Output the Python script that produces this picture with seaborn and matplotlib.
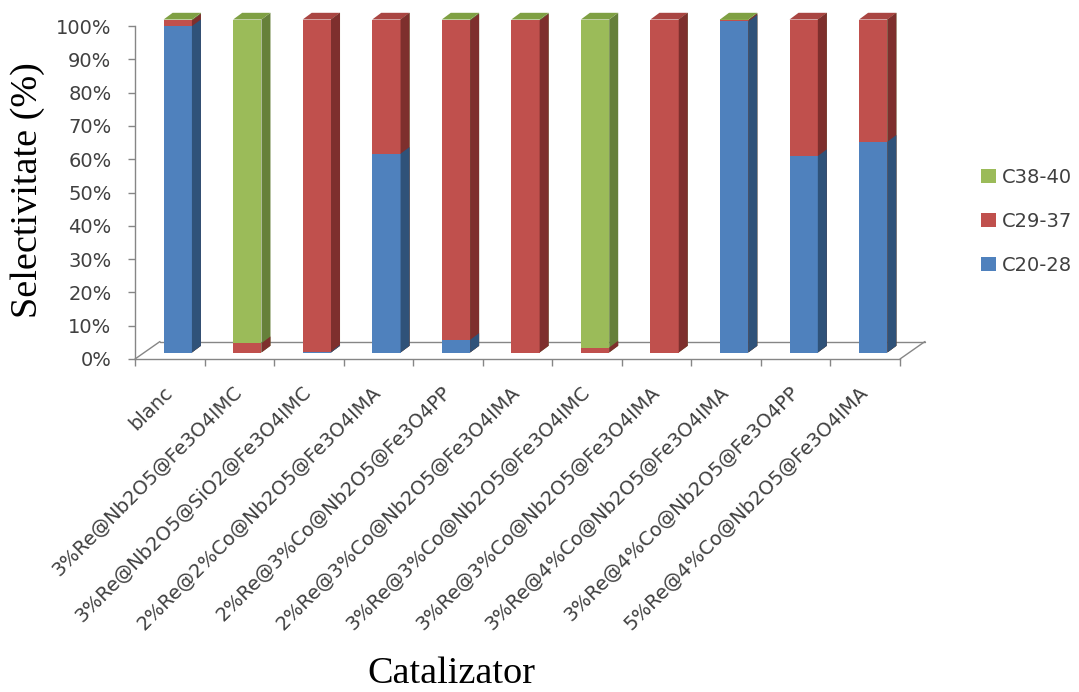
import matplotlib
matplotlib.use("Agg")
import matplotlib.pyplot as plt
from matplotlib.patches import Polygon, Patch
from matplotlib.lines import Line2D
import numpy as np
import pandas as pd
import seaborn as sns

# ---- data (selectivity, %) ----
categories = [
    "blanc",
    "3%Re@Nb2O5@Fe3O4IMC",
    "3%Re@Nb2O5@SiO2@Fe3O4IMC",
    "2%Re@2%Co@Nb2O5@Fe3O4IMA",
    "2%Re@3%Co@Nb2O5@Fe3O4PP",
    "2%Re@3%Co@Nb2O5@Fe3O4IMA",
    "3%Re@3%Co@Nb2O5@Fe3O4IMC",
    "3%Re@3%Co@Nb2O5@Fe3O4IMA",
    "3%Re@4%Co@Nb2O5@Fe3O4IMA",
    "3%Re@4%Co@Nb2O5@Fe3O4PP",
    "5%Re@4%Co@Nb2O5@Fe3O4IMA",
]
c20_28 = [98.0, 0.0, 0.3, 59.7, 3.8, 0.0, 0.0, 0.0, 99.4, 59.0, 63.3]
c29_37 = [1.7, 2.8, 99.7, 40.3, 95.9, 99.7, 1.5, 100.0, 0.4, 41.0, 36.7]
c38_40 = [0.3, 97.2, 0.0, 0.0, 0.3, 0.3, 98.5, 0.0, 0.2, 0.0, 0.0]
series_names = ["C20-28", "C29-37", "C38-40"]
y_ticks = list(range(0, 101, 10))
y_tick_labels = [f"{v}%" for v in y_ticks]

# ---- style ----
front_colors = {"C20-28": "#4F81BD", "C29-37": "#C0504D", "C38-40": "#9BBB59"}
side_colors = {"C20-28": "#2F5279", "C29-37": "#7E2F2D", "C38-40": "#66803A"}
top_colors = {"C20-28": "#4472A8", "C29-37": "#A94542", "C38-40": "#7FA043"}
grey = "#868686"
text_grey = "#404040"

sns.set_theme(style="white")
plt.rcParams["font.family"] = ["DejaVu Sans"]

W, H, DPI = 1079, 692, 100
fig = plt.figure(figsize=(W / DPI, H / DPI), dpi=DPI)
ax = fig.add_axes([135 / W, 1 - 359 / H, 765 / W, 333 / H])

n = len(categories)
df = pd.DataFrame({"cat": categories, "C20-28": c20_28, "C29-37": c29_37, "C38-40": c38_40})
df["cum_blue"] = df["C20-28"]
df["cum_red"] = df["C20-28"] + df["C29-37"]
df["cum_all"] = df["cum_red"] + df["C38-40"]

ax.set_xlim(-0.5, n - 0.5)
ax.set_ylim(0, 100)

# pixel -> data unit conversion for the pseudo-3D depth
sx = n / ax.bbox.width
sy = 100 / ax.bbox.height
floor_d = (25 * sx, 17.5 * sy)   # depth of the floor
shift = (8 * sx, 6.5 * sy)        # bars stand partway into the floor
bar_d = (9 * sx, 6.7 * sy)        # depth of each bar
bar_w = 0.407

# floor outline
x0, x1 = -0.5, n - 0.5
floor_kw = dict(color=grey, lw=1.0, clip_on=False, zorder=1)
ax.add_line(Line2D([x0 + floor_d[0], x1 + floor_d[0]], [floor_d[1], floor_d[1]], **floor_kw))
ax.add_line(Line2D([x0, x0 + floor_d[0]], [0, floor_d[1]], **floor_kw))
ax.add_line(Line2D([x1, x1 + floor_d[0]], [0, floor_d[1]], **floor_kw))

# topmost non-empty series of each bar decides the colour of its top face
top_series = []
for i in range(n):
    name = series_names[0]
    for s in series_names:
        if df.loc[i, s] > 0:
            name = s
    top_series.append(name)

layers = [("cum_all", "C38-40"), ("cum_red", "C29-37"), ("cum_blue", "C20-28")]
for k, (col, name) in enumerate(layers):
    before = len(ax.patches)
    sns.barplot(data=df, x="cat", y=col, color=front_colors[name], saturation=1,
                width=bar_w, errorbar=None, linewidth=0, ax=ax, zorder=3 + k)
    new = ax.patches[before:]
    for i, p in enumerate(new):
        p.set_x(p.get_x() + shift[0])
        p.set_y(p.get_y() + shift[1])
        p.set_clip_on(False)
        xl = p.get_x()
        xr = xl + p.get_width()
        yb = p.get_y()
        yt = yb + p.get_height()
        if p.get_height() <= 0:
            continue
        side = Polygon([(xr, yb), (xr + bar_d[0], yb + bar_d[1]),
                        (xr + bar_d[0], yt + bar_d[1]), (xr, yt)],
                       closed=True, facecolor=side_colors[name], edgecolor="none",
                       zorder=3 + k, clip_on=False)
        ax.add_patch(side)
        if col == "cum_all":
            top = Polygon([(xl, yt), (xl + bar_d[0], yt + bar_d[1]),
                           (xr + bar_d[0], yt + bar_d[1]), (xr, yt)],
                          closed=True, facecolor=top_colors[top_series[i]],
                          edgecolor="none", zorder=3 + k, clip_on=False)
            ax.add_patch(top)

ax.set_xlim(-0.5, n - 0.5)
ax.set_ylim(0, 100)

# axes, ticks
for s in ["top", "right"]:
    ax.spines[s].set_visible(False)
for s in ["left", "bottom"]:
    ax.spines[s].set_color(grey)
    ax.spines[s].set_linewidth(1.0)
    ax.spines[s].set_zorder(2)

ax.set_yticks(y_ticks)
ax.set_yticklabels(y_tick_labels)
ax.tick_params(axis="y", which="major", direction="out", length=5, width=1,
               color=grey, labelsize=14, labelcolor=text_grey, pad=12, left=True)

ax.set_xticks(range(n))
ax.set_xticklabels(categories, rotation=45, ha="right", va="center",
                   rotation_mode="anchor")
ax.set_xticks(np.arange(-0.5, n, 1.0), minor=True)
ax.tick_params(axis="x", which="major", length=0, labelsize=14,
               labelcolor=text_grey, pad=22)
ax.tick_params(axis="x", which="minor", direction="out", length=5, width=1,
               color=grey, bottom=True)

serif = ["Liberation Serif", "DejaVu Serif"]
ax.set_ylabel("Selectivitate (%)", fontsize=27.5, family=serif, color="black",
              va="center")
ax.yaxis.set_label_coords((28 - 135) / 765, (359 - 190) / 333)
ax.set_xlabel("Catalizator", fontsize=27.5, family=serif, color="black", va="center")
ax.xaxis.set_label_coords((451 - 135) / 765, (359 - 674) / 333)

handles = [Patch(facecolor=front_colors[s], edgecolor="none") for s in series_names[::-1]]
fig.legend(handles, series_names[::-1], loc="upper left",
           bbox_to_anchor=(981 / W, 1 - 168 / H), frameon=False, fontsize=14,
           handlelength=0.75, handleheight=0.75, handletextpad=0.3,
           labelspacing=1.28, borderpad=0, borderaxespad=0, labelcolor=text_grey)

fig.savefig("out.png", dpi=DPI)
